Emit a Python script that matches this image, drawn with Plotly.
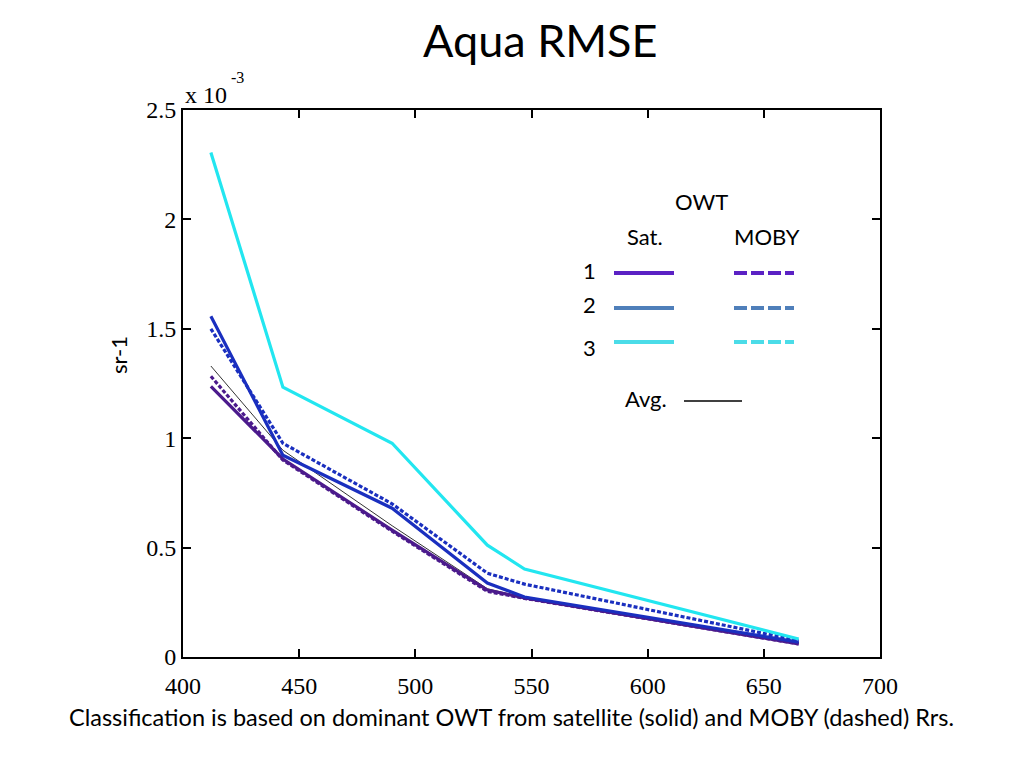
import plotly.graph_objects as go

wavelength = [412, 443, 490, 531, 547, 665]

sat_owt1 = [1.237, 0.905, 0.580, 0.306, 0.270, 0.060]
sat_owt2 = [1.557, 0.922, 0.680, 0.338, 0.274, 0.068]
sat_owt3 = [2.306, 1.233, 0.977, 0.511, 0.402, 0.082]
moby_owt1 = [1.283, 0.900, 0.575, 0.300, 0.268, 0.060]
moby_owt2 = [1.500, 0.977, 0.700, 0.383, 0.333, 0.075]
avg_all = [1.330, 0.945, 0.600, 0.312, 0.272, 0.065]

x_ticks = [400, 450, 500, 550, 600, 650, 700]
y_ticks = [0, 0.5, 1, 1.5, 2, 2.5]
y_tick_labels = ["0", "0.5", "1", "1.5", "2", "2.5"]

PURPLE = "#4B1A8C"
BLUE = "#1A2FBF"
CYAN = "#22E6F0"
L_PURPLE = "#5B21C4"
L_BLUE = "#4F7FBA"
L_CYAN = "#4BDCE8"

fig = go.Figure()
fig.add_trace(go.Scatter(x=wavelength, y=avg_all, mode="lines",
                         line=dict(color="#333333", width=1)))
fig.add_trace(go.Scatter(x=wavelength, y=moby_owt1, mode="lines",
                         line=dict(color=PURPLE, width=3.2, dash="4px,2px")))
fig.add_trace(go.Scatter(x=wavelength, y=sat_owt1, mode="lines",
                         line=dict(color=PURPLE, width=3.2)))
fig.add_trace(go.Scatter(x=wavelength, y=moby_owt2, mode="lines",
                         line=dict(color=BLUE, width=3.2, dash="4px,2px")))
fig.add_trace(go.Scatter(x=wavelength, y=sat_owt2, mode="lines",
                         line=dict(color=BLUE, width=3.2)))
fig.add_trace(go.Scatter(x=wavelength, y=sat_owt3, mode="lines",
                         line=dict(color=CYAN, width=3.2)))

# target plot-area edges in page pixels
L, R, T, B = 183, 880, 110, 657
OFF = 8  # page body offset

W, H = 1024, 768


def px(xp):
    return (xp - L) / (R - L)


def py(yp):
    return (B - yp) / (B - T)


serif = "Liberation Serif"
sans = "Lato"

annotations = [
    dict(text="Aqua RMSE", x=540, y=40, size=45, font=sans),
    dict(text="Classification is based on dominant OWT from satellite (solid) and MOBY (dashed) Rrs.",
         x=511, y=717, size=23.5, font=sans),
    dict(text="OWT", x=701, y=201, size=22, font=sans),
    dict(text="Sat.", x=645, y=236, size=22, font=sans),
    dict(text="MOBY", x=767, y=236, size=22, font=sans),
    dict(text="1", x=589, y=270, size=22, font=sans),
    dict(text="2", x=589, y=304, size=22, font=sans),
    dict(text="3", x=589, y=347, size=22, font=sans),
    dict(text="Avg.", x=646, y=398, size=22, font=sans),
    dict(text="x 10", x=206, y=95, size=24, font=serif),
    dict(text="-3", x=237, y=77, size=16, font=serif),
]
ann = []
for a in annotations:
    ann.append(dict(text=a["text"], xref="paper", yref="paper",
                    x=px(a["x"]), y=py(a["y"]), xanchor="center", yanchor="middle",
                    showarrow=False, font=dict(family=a["font"], size=a["size"], color="black")))
ann.append(dict(text="sr-1", xref="paper", yref="paper", x=px(118), y=py(355),
                xanchor="center", yanchor="middle", textangle=-90, showarrow=False,
                font=dict(family=sans, size=22, color="black")))

shapes = []
legend_rows = [(273, L_PURPLE), (308, L_BLUE), (342, L_CYAN)]
for yy, col in legend_rows:
    shapes.append(dict(type="line", xref="paper", yref="paper",
                       x0=px(614), x1=px(674), y0=py(yy), y1=py(yy),
                       line=dict(color=col, width=4)))
    shapes.append(dict(type="line", xref="paper", yref="paper",
                       x0=px(734), x1=px(794), y0=py(yy), y1=py(yy),
                       line=dict(color=col, width=4, dash="13px,4px")))
shapes.append(dict(type="line", xref="paper", yref="paper",
                   x0=px(684), x1=px(742), y0=py(401), y1=py(401),
                   line=dict(color="black", width=1.5)))

ml = L - OFF
mt = T - OFF
mr = W - ml - (R - L)
mb = H - mt - (B - T)

fig.update_layout(
    width=W, height=H,
    margin=dict(l=ml, r=mr, t=mt, b=mb, autoexpand=False),
    paper_bgcolor="white", plot_bgcolor="white",
    showlegend=False,
    annotations=ann, shapes=shapes,
    xaxis=dict(range=[400, 700], tickvals=x_ticks, ticks="inside", ticklen=8,
               tickwidth=1.5, tickcolor="black", ticklabelstandoff=6,
               showline=True, linecolor="black", linewidth=2, mirror="ticks",
               showgrid=False, zeroline=False,
               tickfont=dict(family=serif, size=24, color="black")),
    yaxis=dict(range=[0, 2.5], tickvals=y_ticks, ticktext=y_tick_labels,
               ticks="inside", ticklen=8, tickwidth=1.5, tickcolor="black",
               showline=True, linecolor="black", linewidth=2, mirror="ticks",
               showgrid=False, zeroline=False,
               tickfont=dict(family=serif, size=24, color="black")),
)

fig.write_html("out.html")
